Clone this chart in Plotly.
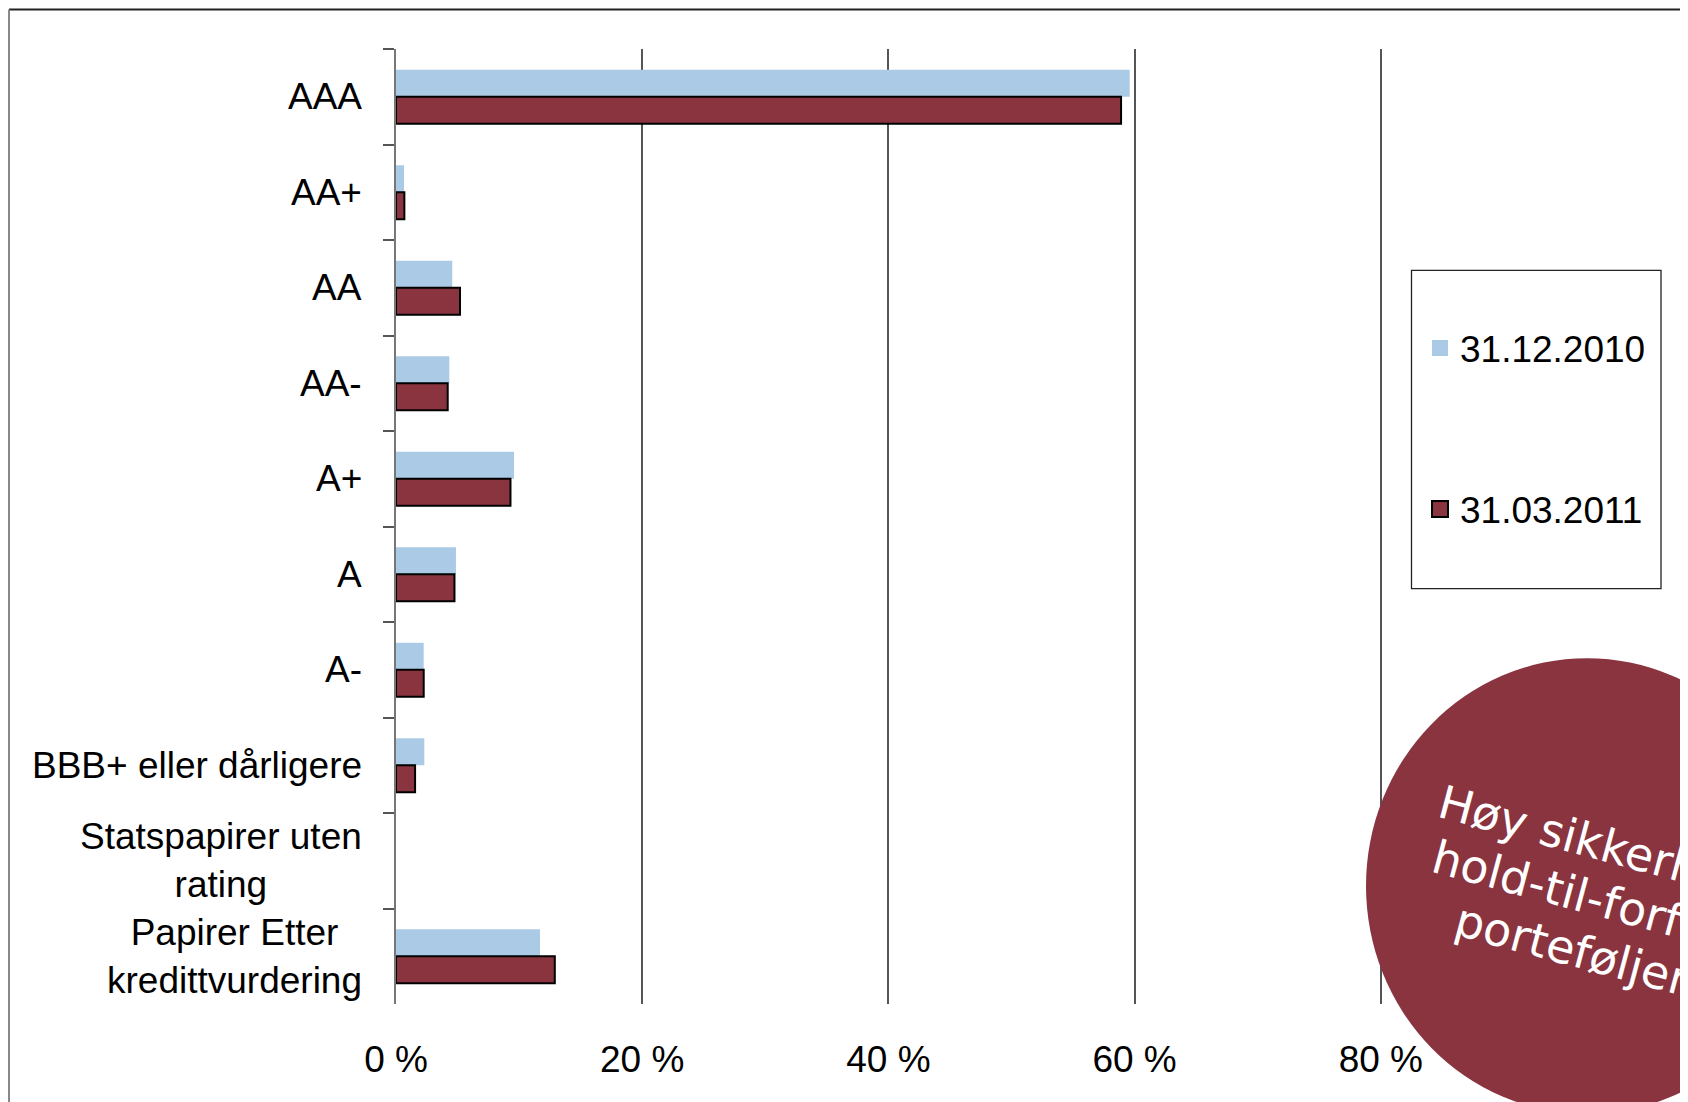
import plotly.graph_objects as go

# ---- data -------------------------------------------------------------
categories = ["AAA", "AA+", "AA", "AA-", "A+", "A", "A-",
              "BBB+ eller dårligere",
              "Statspapirer uten<br>rating",
              "Papirer Etter<br>kredittvurdering"]
series_names = ["31.12.2010", "31.03.2011"]
values_2010 = [0.596, 0.0065, 0.0457, 0.0433, 0.0959, 0.0487, 0.0225, 0.023, None, 0.117]
values_2011 = [0.589, 0.0068, 0.052, 0.042, 0.093, 0.0475, 0.0225, 0.0155, None, 0.129]
tick_values = [0, 0.2, 0.4, 0.6, 0.8]
tick_labels = ["0 %", "20 %", "40 %", "60 %", "80 %"]
callout_lines = ["Høy sikkerhet i", "hold-til-forfall-", "porteføljen"]

# ---- style ------------------------------------------------------------
LIGHT = "#ABCAE6"
DARK = "#8A3440"
FONT = "Liberation Sans, Arial, sans-serif"
W, H = 1688, 1102
OFF = 8  # page offset of the figure inside the browser window
L, T = 396 - OFF, 48.5 - OFF
R = W - (1627 - OFF)
B = H - (1004 - OFF)
PW, PH = W - L - R, H - T - B


def px_x(px):
    """page pixel x -> paper fraction"""
    return (px - OFF - L) / PW


def px_y(py):
    """page pixel y -> paper fraction"""
    return (H - B - (py - OFF)) / PH


fig = go.Figure()
fig.add_trace(go.Bar(y=categories, x=values_2010, orientation="h", name=series_names[0],
                     marker=dict(color=LIGHT, line=dict(width=0)), showlegend=False))
fig.add_trace(go.Bar(y=categories, x=values_2011, orientation="h", name=series_names[1],
                     marker=dict(color=DARK, line=dict(color="black", width=2)), showlegend=False))

# legend proxies (larger square symbols)
fig.add_trace(go.Scatter(x=[None], y=[None], mode="markers", name=series_names[0],
                         legendgroup="a",
                         marker=dict(symbol="square", size=18, color=LIGHT, line=dict(width=0))))
fig.add_trace(go.Scatter(x=[None], y=[None], mode="markers", name=series_names[1],
                         legendgroup="b",
                         marker=dict(symbol="square", size=17, color=DARK,
                                     line=dict(color="black", width=2))))

# category labels (centered multi-line)
for c in categories:
    fig.add_annotation(x=0, xref="paper", y=c, yref="y", text=c, showarrow=False,
                       xanchor="right", yanchor="middle", align="center", xshift=-33,
                       borderpad=0, font=dict(family=FONT, size=37, color="black"))

shapes = [
    # outer frame
    dict(type="line", xref="paper", yref="paper", x0=px_x(9), x1=px_x(1750),
         y0=px_y(9), y1=px_y(9), line=dict(color="#222222", width=2)),
    dict(type="line", xref="paper", yref="paper", x0=px_x(9), x1=px_x(9),
         y0=px_y(9), y1=px_y(1150), line=dict(color="#888888", width=2)),
    # legend box
    dict(type="rect", xref="paper", yref="paper", x0=px_x(1411.5), x1=px_x(1661),
         y0=px_y(588.5), y1=px_y(270), line=dict(color="#222222", width=1.3),
         fillcolor="rgba(0,0,0,0)"),
    # callout ellipse
    dict(type="circle", xref="paper", yref="paper", x0=px_x(1366), x1=px_x(1808),
         y0=px_y(1114), y1=px_y(658), line=dict(width=0), fillcolor=DARK,
         layer="above"),
]

centers = [(1605, 845), (1591, 898), (1577, 951)]
for txt, (cx, cy) in zip(callout_lines, centers):
    fig.add_annotation(x=px_x(cx), y=px_y(cy), xref="paper", yref="paper", text=txt,
                       showarrow=False, xanchor="center", yanchor="middle", textangle=15,
                       font=dict(family="DejaVu Sans, Verdana, sans-serif", size=46, color="white"))

fig.update_layout(
    width=W, height=H,
    margin=dict(l=L, r=R, t=T, b=B, autoexpand=False),
    paper_bgcolor="white", plot_bgcolor="white",
    barmode="group", bargap=0.435, bargroupgap=0,
    font=dict(family=FONT, size=37, color="black"),
    shapes=shapes,
    showlegend=True,
    legend=dict(x=px_x(1420), y=px_y(317), xanchor="left", yanchor="top",
                bgcolor="rgba(0,0,0,0)", borderwidth=0, tracegroupgap=110,
                traceorder="grouped", itemclick=False,
                font=dict(family=FONT, size=37, color="black")),
    xaxis=dict(range=[0, 1], tickvals=tick_values, ticktext=tick_labels,
               showgrid=True, gridcolor="#555555", gridwidth=1.5, zeroline=False,
               showline=False, ticks="", ticklabelstandoff=30,
               tickfont=dict(family=FONT, size=37, color="black"), fixedrange=True),
    yaxis=dict(categoryorder="array", categoryarray=categories, autorange="reversed",
               showticklabels=False, showline=True, linecolor="#777777", linewidth=1.5,
               ticks="outside", tickson="boundaries", ticklen=11, tickcolor="#555555",
               tickwidth=1.5, showgrid=False, zeroline=False, fixedrange=True),
)

fig.write_html("out.html")
